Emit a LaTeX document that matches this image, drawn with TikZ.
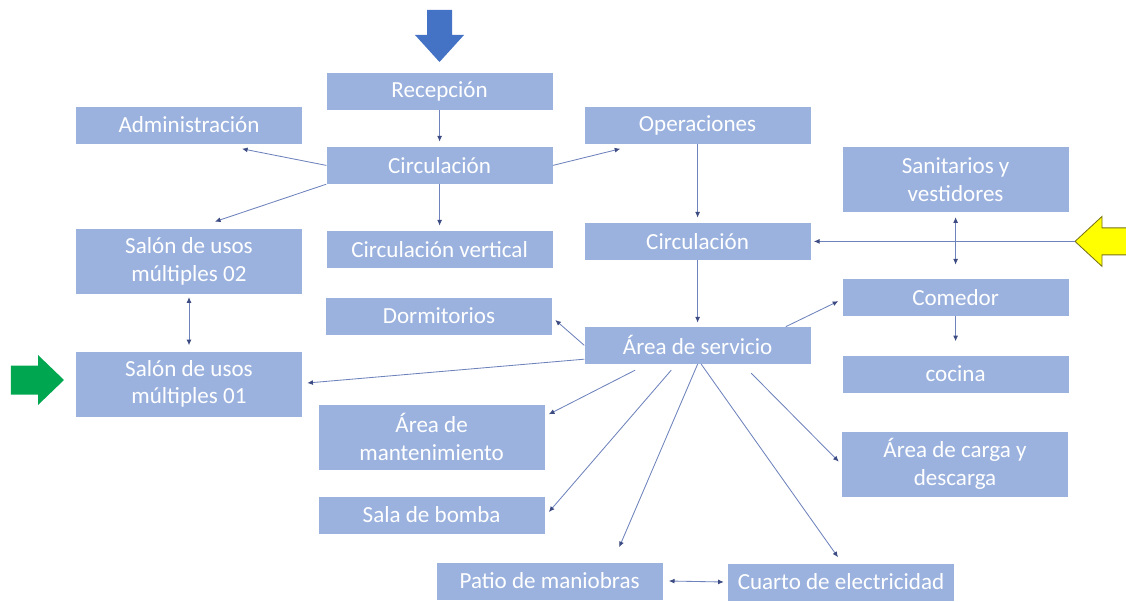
\documentclass[tikz,border=0pt]{standalone}
\usepackage{fontspec}
\setmainfont{Carlito}
\usetikzlibrary{arrows.meta}

\definecolor{boxblue}{RGB}{155,178,222}
\definecolor{linkblue}{RGB}{110,130,188}
\definecolor{tipblue}{RGB}{60,75,130}
\definecolor{inblue}{RGB}{68,114,196}
\definecolor{ingreen}{RGB}{0,166,80}
\definecolor{inyellow}{RGB}{255,255,0}

\begin{document}
\begin{tikzpicture}[
    block/.style={
        rectangle,
        fill=boxblue,
        text=white,
        minimum width=5.65cm,
        minimum height=0.925cm,
        inner sep=0pt,
        align=center,
        font=\fontsize{16.4}{19.7}\selectfont
    },
    tall/.style={block, minimum height=1.625cm},
    line/.style={draw=linkblue, line width=0.6pt, -{Latex[length=4pt,width=3.5pt,color=tipblue]}},
    both/.style={line, {Latex[length=4pt,width=3.5pt,color=tipblue]}-{Latex[length=4pt,width=3.5pt,color=tipblue]}}
]
    \useasboundingbox (0,0) rectangle (28.15,15.025);

    % Entrances
    \fill[inblue] (10.675,14.775) -- (11.3,14.775) -- (11.3,14.15) -- (11.6,14.15)
        -- (10.9875,13.475) -- (10.375,14.15) -- (10.675,14.15) -- cycle;
    \filldraw[fill=inyellow, draw=olive!80!black, line width=0.6pt] (26.875,8.99)
        -- (27.55,9.615) -- (27.55,9.3275) -- (28.4,9.3275) -- (28.4,8.6525)
        -- (27.55,8.6525) -- (27.55,8.365) -- cycle;
    \coordinate (yeltip) at (26.875,8.99);
    \fill[ingreen] (0.275,5.8875) -- (0.95,5.8875) -- (0.95,6.15) -- (1.6,5.525)
        -- (0.95,4.9) -- (0.95,5.1625) -- (0.275,5.1625) -- cycle;

    % Access and administration
    \node[block] (rec) at (10.99,12.74) {Recepción};
    \node[block] (adm) at (4.725,11.9) {Administración};
    \node[block] (circa) at (10.99,10.89) {Circulación};
    \node[block] (oper) at (17.44,11.9) {Operaciones};
    \node[tall] (salon2) at (4.725,8.49) {Salón de usos\\múltiples 02};
    \node[block] (cvert) at (10.99,8.79) {Circulación vertical};
    \node[tall] (salon1) at (4.725,5.425) {Salón de usos\\múltiples 01};

    % Service zone
    \node[block] (circb) at (17.44,8.99) {Circulación};
    \node[block] (serv) at (17.44,6.39) {Área de servicio};
    \node[block] (dorm) at (10.975,7.125) {Dormitorios};
    \node[tall] (mant) at (10.79,4.1) {Área de\\mantenimiento};
    \node[block] (bomba) at (10.79,2.15) {Sala de bomba};
    \node[block] (patio) at (13.74,0.5) {Patio de maniobras};
    \node[block] (cuarto) at (21.025,0.475) {Cuarto de electricidad};

    % Staff zone
    \node[tall] (sanit) at (23.89,10.54) {Sanitarios y\\vestidores};
    \node[block] (comedor) at (23.89,7.59) {Comedor};
    \node[block] (cocina) at (23.89,5.675) {cocina};
    \node[tall] (carga) at (23.875,3.425) {Área de carga y\\descarga};

    % Connections
    \draw[line] (rec.south) -- ([yshift=0.125cm]circa.north);
    \draw[line] (circa.west) -- ([xshift=1.325cm,yshift=-0.125cm]adm.south);
    \draw[line] (circa.south west) -- ([xshift=0.65cm,yshift=0.175cm]salon2.north);
    \draw[line] (circa.south) -- ([yshift=0.125cm]cvert.north);
    \draw[line] (circa.east) -- ([xshift=0.9cm,yshift=-0.125cm]oper.south west);
    \draw[line] (oper.south) -- ([yshift=0.125cm]circb.north);
    \draw[line] (yeltip) -- ([xshift=0.075cm]circb.east);
    \draw[line] (circb.south) -- ([yshift=0.1cm]serv.north);
    \draw[both] ([yshift=-0.125cm]sanit.south) -- ([yshift=0.35cm]comedor.north);
    \draw[line] (comedor.south) -- ([yshift=0.35cm]cocina.north);
    \draw[line] ([xshift=-0.625cm]serv.north east) -- ([xshift=-0.1cm,yshift=0.375cm]comedor.south west);
    \draw[line] (serv.west) -- ([xshift=0.075cm,yshift=-0.1cm]dorm.east);
    \draw[line] ([yshift=0.125cm]serv.south west) -- ([xshift=0.125cm,yshift=0.025cm]salon1.east);
    \draw[line] ([xshift=-1.5625cm,yshift=-0.15cm]serv.south) -- ([xshift=0.1cm,yshift=-0.25cm]mant.north east);
    \draw[line] ([xshift=-0.66cm,yshift=-0.15cm]serv.south) -- ([xshift=0.1cm,yshift=0.075cm]bomba.east);
    \draw[line] (serv.south) -- ([xshift=1.74cm,yshift=0.375cm]patio.north);
    \draw[line] ([xshift=0.09cm]serv.south) -- ([xshift=-0.075cm,yshift=0.15cm]cuarto.north);
    \draw[line] ([xshift=1.34cm,yshift=-0.225cm]serv.south) -- ([xshift=-0.075cm,yshift=0.06cm]carga.west);
    \draw[both] ([xshift=0.15cm]patio.east) -- ([xshift=-0.1cm]cuarto.west);
    \draw[both] ([yshift=-0.075cm]salon2.south) -- ([yshift=0.15cm]salon1.north);
\end{tikzpicture}
\end{document}
